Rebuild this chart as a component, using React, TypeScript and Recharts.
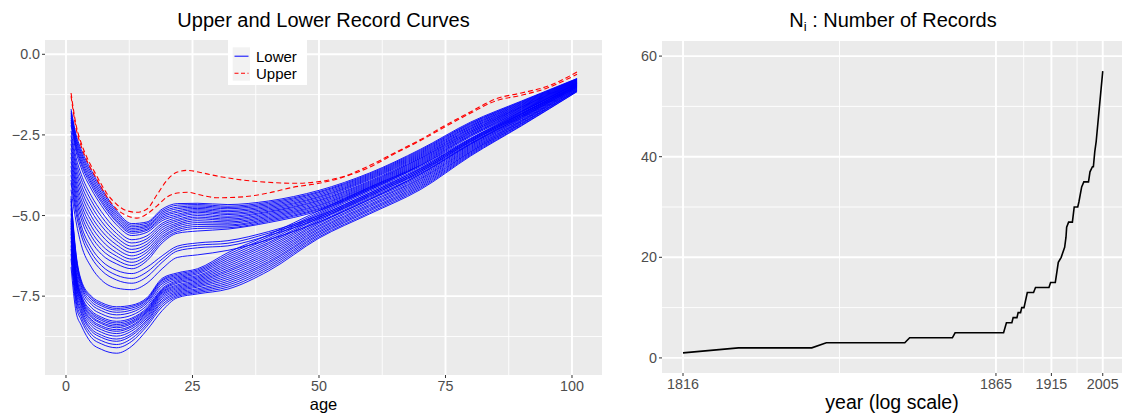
import React from 'react';
import { LineChart, Line, XAxis, YAxis, CartesianGrid } from 'recharts';

const FONT = '"Liberation Sans", Arial, Helvetica, sans-serif';

// ---------- Left panel: record curves (log mortality by age) ----------
const AGES = [1, 2, 3, 5, 7, 10, 13, 16, 19, 22, 26, 32, 40, 50, 60, 70, 80, 90, 101];

// Lower record curves, upper bundle
const LOWER_BUNDLE_A = [
  [-1.70, -2.50, -2.95, -3.60, -4.15, -4.85, -5.25, -5.20, -4.80, -4.63, -4.62, -4.66, -4.55, -4.22, -3.68, -2.95, -2.10, -1.45, -0.75],
  [-1.77, -2.57, -3.03, -3.68, -4.22, -4.91, -5.30, -5.24, -4.85, -4.68, -4.66, -4.71, -4.59, -4.26, -3.71, -2.98, -2.13, -1.47, -0.76],
  [-1.83, -2.64, -3.10, -3.76, -4.30, -4.97, -5.35, -5.29, -4.90, -4.74, -4.70, -4.75, -4.63, -4.29, -3.74, -3.01, -2.15, -1.49, -0.77],
  [-1.90, -2.71, -3.18, -3.84, -4.37, -5.03, -5.40, -5.33, -4.95, -4.79, -4.74, -4.79, -4.67, -4.33, -3.77, -3.04, -2.18, -1.51, -0.78],
  [-1.97, -2.79, -3.26, -3.92, -4.44, -5.09, -5.45, -5.37, -5.00, -4.85, -4.78, -4.84, -4.71, -4.37, -3.80, -3.07, -2.21, -1.53, -0.79],
  [-2.04, -2.86, -3.34, -3.99, -4.52, -5.15, -5.50, -5.42, -5.05, -4.90, -4.82, -4.88, -4.75, -4.41, -3.83, -3.10, -2.23, -1.55, -0.80],
  [-2.11, -2.93, -3.41, -4.07, -4.59, -5.20, -5.55, -5.46, -5.10, -4.96, -4.86, -4.93, -4.79, -4.44, -3.86, -3.13, -2.26, -1.57, -0.81],
  [-2.20, -3.03, -3.52, -4.18, -4.69, -5.29, -5.62, -5.52, -5.16, -5.01, -4.90, -4.97, -4.83, -4.48, -3.89, -3.16, -2.29, -1.59, -0.82],
  [-2.38, -3.21, -3.72, -4.39, -4.88, -5.44, -5.75, -5.63, -5.24, -5.06, -4.95, -5.02, -4.87, -4.52, -3.93, -3.19, -2.31, -1.61, -0.83],
  [-2.52, -3.36, -3.87, -4.54, -5.03, -5.56, -5.85, -5.72, -5.30, -5.12, -5.00, -5.06, -4.90, -4.55, -3.96, -3.22, -2.34, -1.63, -0.84],
  [-2.65, -3.50, -4.03, -4.70, -5.18, -5.68, -5.95, -5.80, -5.37, -5.17, -5.05, -5.11, -4.94, -4.59, -3.99, -3.24, -2.37, -1.64, -0.85],
  [-2.78, -3.64, -4.18, -4.86, -5.32, -5.79, -6.05, -5.89, -5.44, -5.23, -5.10, -5.15, -4.98, -4.63, -4.02, -3.27, -2.39, -1.66, -0.86],
  [-2.92, -3.79, -4.33, -5.02, -5.47, -5.91, -6.15, -5.97, -5.51, -5.28, -5.16, -5.20, -5.02, -4.67, -4.05, -3.30, -2.42, -1.68, -0.87],
  [-3.06, -3.93, -4.49, -5.17, -5.61, -6.03, -6.25, -6.06, -5.58, -5.33, -5.22, -5.24, -5.06, -4.70, -4.08, -3.33, -2.44, -1.70, -0.88],
  [-3.19, -4.07, -4.64, -5.33, -5.76, -6.15, -6.35, -6.14, -5.65, -5.39, -5.28, -5.29, -5.10, -4.74, -4.11, -3.36, -2.47, -1.72, -0.89],
  [-3.33, -4.21, -4.79, -5.49, -5.91, -6.26, -6.45, -6.23, -5.71, -5.44, -5.34, -5.33, -5.14, -4.78, -4.14, -3.39, -2.50, -1.74, -0.90],
  [-3.47, -4.36, -4.95, -5.64, -6.05, -6.38, -6.55, -6.32, -5.78, -5.50, -5.40, -5.38, -5.18, -4.81, -4.17, -3.42, -2.52, -1.76, -0.91],
  [-3.60, -4.50, -5.10, -5.80, -6.20, -6.50, -6.65, -6.40, -5.85, -5.55, -5.48, -5.42, -5.22, -4.85, -4.20, -3.45, -2.55, -1.78, -0.92],
  [-3.75, -4.65, -5.30, -6.00, -6.40, -6.70, -6.80, -6.60, -6.25, -5.95, -5.85, -5.78, -5.50, -5.00, -4.30, -3.55, -2.62, -1.83, -0.95],
  [-3.90, -4.80, -5.45, -6.15, -6.55, -6.85, -6.95, -6.75, -6.35, -6.02, -5.92, -5.86, -5.55, -5.05, -4.35, -3.60, -2.66, -1.86, -0.97],
  [-4.00, -4.95, -5.60, -6.30, -6.70, -7.00, -7.10, -6.90, -6.45, -6.10, -6.00, -5.94, -5.62, -5.10, -4.40, -3.65, -2.70, -1.90, -0.99],
  [-4.20, -5.20, -5.90, -6.60, -7.00, -7.25, -7.30, -7.10, -6.65, -6.30, -6.22, -6.08, -5.75, -5.20, -4.50, -3.72, -2.78, -1.95, -1.02],
];

// Lower record curves, lower bundle
const LOWER_BUNDLE_B = [
  [-4.40, -6.20, -7.00, -7.50, -7.70, -7.83, -7.78, -7.55, -6.95, -6.78, -6.65, -6.15, -5.60, -4.85, -4.12, -3.45, -2.60, -1.78, -0.90],
  [-4.48, -6.26, -7.05, -7.55, -7.75, -7.88, -7.82, -7.59, -6.99, -6.82, -6.69, -6.21, -5.66, -4.90, -4.16, -3.49, -2.63, -1.80, -0.91],
  [-4.55, -6.32, -7.10, -7.60, -7.80, -7.93, -7.87, -7.62, -7.02, -6.86, -6.73, -6.27, -5.72, -4.94, -4.21, -3.53, -2.66, -1.83, -0.93],
  [-4.66, -6.41, -7.17, -7.67, -7.87, -8.00, -7.93, -7.67, -7.07, -6.90, -6.77, -6.33, -5.78, -4.98, -4.25, -3.57, -2.69, -1.85, -0.94],
  [-4.78, -6.51, -7.24, -7.75, -7.95, -8.08, -8.00, -7.72, -7.12, -6.94, -6.81, -6.39, -5.84, -5.03, -4.30, -3.61, -2.72, -1.87, -0.96],
  [-4.94, -6.64, -7.34, -7.85, -8.05, -8.18, -8.09, -7.79, -7.19, -6.98, -6.86, -6.45, -5.89, -5.07, -4.34, -3.65, -2.75, -1.90, -0.97],
  [-5.09, -6.76, -7.44, -7.95, -8.15, -8.28, -8.18, -7.86, -7.26, -7.02, -6.90, -6.51, -5.95, -5.12, -4.38, -3.69, -2.77, -1.92, -0.98],
  [-5.16, -6.83, -7.49, -8.00, -8.20, -8.33, -8.22, -7.90, -7.30, -7.06, -6.94, -6.57, -6.01, -5.16, -4.43, -3.73, -2.80, -1.94, -1.00],
  [-5.24, -6.89, -7.54, -8.05, -8.25, -8.38, -8.27, -7.93, -7.33, -7.10, -6.98, -6.63, -6.07, -5.21, -4.47, -3.77, -2.83, -1.97, -1.01],
  [-5.32, -6.95, -7.58, -8.11, -8.31, -8.43, -8.31, -7.97, -7.37, -7.15, -7.02, -6.69, -6.13, -5.25, -4.51, -3.81, -2.86, -1.99, -1.02],
  [-5.39, -7.01, -7.63, -8.15, -8.35, -8.48, -8.35, -8.00, -7.40, -7.19, -7.06, -6.74, -6.19, -5.30, -4.56, -3.85, -2.89, -2.01, -1.04],
  [-5.49, -7.09, -7.69, -8.22, -8.42, -8.54, -8.41, -8.04, -7.44, -7.23, -7.10, -6.80, -6.25, -5.34, -4.60, -3.88, -2.92, -2.04, -1.05],
  [-5.56, -7.15, -7.74, -8.27, -8.47, -8.59, -8.45, -8.08, -7.48, -7.27, -7.14, -6.86, -6.31, -5.39, -4.65, -3.92, -2.95, -2.06, -1.06],
  [-5.67, -7.24, -7.81, -8.34, -8.54, -8.66, -8.51, -8.13, -7.53, -7.31, -7.18, -6.92, -6.37, -5.43, -4.69, -3.96, -2.98, -2.08, -1.08],
  [-5.79, -7.34, -7.89, -8.42, -8.62, -8.74, -8.58, -8.18, -7.58, -7.35, -7.22, -6.98, -6.43, -5.48, -4.73, -4.00, -3.01, -2.10, -1.09],
  [-5.93, -7.45, -7.97, -8.51, -8.71, -8.83, -8.66, -8.24, -7.64, -7.39, -7.27, -7.04, -6.48, -5.52, -4.78, -4.04, -3.03, -2.13, -1.11],
  [-6.04, -7.54, -8.04, -8.58, -8.78, -8.90, -8.72, -8.29, -7.69, -7.43, -7.31, -7.10, -6.54, -5.57, -4.82, -4.08, -3.06, -2.15, -1.12],
  [-6.19, -7.66, -8.14, -8.68, -8.88, -9.00, -8.81, -8.36, -7.76, -7.47, -7.35, -7.16, -6.60, -5.61, -4.86, -4.12, -3.09, -2.17, -1.13],
  [-6.34, -7.79, -8.24, -8.78, -8.98, -9.10, -8.90, -8.43, -7.83, -7.51, -7.39, -7.22, -6.66, -5.66, -4.91, -4.16, -3.12, -2.20, -1.15],
  [-6.60, -8.00, -8.40, -8.95, -9.15, -9.27, -9.05, -8.55, -7.95, -7.55, -7.43, -7.28, -6.72, -5.70, -4.95, -4.20, -3.15, -2.22, -1.16],
];

// Upper record curves
const UPPER_AGES = [1, 2, 3, 4, 6, 8, 10, 12, 14, 16, 18, 20, 22, 24, 27, 30, 35, 40, 45, 50, 55, 60, 65, 70, 75, 80, 85, 90, 95, 101];
const UPPER_1 = [-1.20, -2.20, -2.75, -3.15, -3.75, -4.30, -4.65, -4.85, -4.90, -4.80, -4.35, -3.90, -3.65, -3.60, -3.68, -3.78, -3.90, -3.97, -4.00, -3.95, -3.78, -3.45, -3.05, -2.65, -2.20, -1.78, -1.38, -1.20, -1.00, -0.55];
const UPPER_2 = [-1.30, -2.30, -2.85, -3.25, -3.85, -4.40, -4.80, -5.00, -5.08, -4.95, -4.70, -4.42, -4.30, -4.28, -4.38, -4.45, -4.42, -4.30, -4.12, -4.00, -3.80, -3.50, -3.08, -2.68, -2.24, -1.82, -1.44, -1.27, -1.05, -0.62];

const LEFT_X_TICKS = [0, 25, 50, 75, 100];
const LEFT_X_MINOR = [12.5, 37.5, 62.5, 87.5];
const LEFT_Y_TICKS = [-7.5, -5, -2.5, 0];
const LEFT_Y_MINOR = [-8.75, -6.25, -3.75, -1.25];

// ---------- Right panel: number of records ----------
const YEARS = [1816, 1817, 1820, 1821, 1831, 1832, 1844, 1845, 1870, 1872, 1876, 1877, 1880, 1881, 1883, 1884, 1886, 1889, 1895, 1897, 1912, 1914, 1920, 1922, 1924, 1928, 1933, 1935, 1936, 1939, 1945, 1948, 1954, 1956, 1961, 1965, 1974, 1977, 1982, 1984, 1987, 1990, 2005];
const RECORDS = [1, 2, 2, 3, 3, 4, 4, 5, 5, 7, 7, 8, 8, 9, 9, 10, 10, 13, 13, 14, 14, 15, 15, 17, 19, 20, 22, 24, 26, 27, 27, 30, 30, 31, 34, 35, 35, 37, 38, 38, 41, 43, 57];
const BASE_YEAR = 1815;
const YEAR_TICKS = [1816, 1865, 1915, 2005];
const RIGHT_Y_TICKS = [0, 20, 40, 60];
const RIGHT_Y_MINOR = [10, 30, 50];

const curveData = (row: number[]) => AGES.map((a, i) => ({ age: a, v: row[i] }));
const upperData = (row: number[]) => UPPER_AGES.map((a, i) => ({ age: a, v: row[i] }));
const recordData = YEARS.map((y, i) => ({ idx: y - BASE_YEAR, n: RECORDS[i] }));
const yearIdx = YEAR_TICKS.map((y) => y - BASE_YEAR);
// minor breaks: midpoints (in log space) between major breaks
const yearMinor = [
  Math.sqrt(yearIdx[0] * yearIdx[1]),
  Math.sqrt(yearIdx[1] * yearIdx[2]),
  Math.sqrt(yearIdx[2] * yearIdx[3]),
];

const tickStyle = { fontSize: 14.3, fill: '#4D4D4D', fontFamily: FONT };
const minus = (v: number) => v.toFixed(1).replace('-', '\u2212');

function LeftChart() {
  return (
    <LineChart width={610} height={417} margin={{ top: 40, right: 8, bottom: 0, left: 0 }}>
      <CartesianGrid fill="#EBEBEB" stroke="#FFFFFF" strokeWidth={0.9} horizontalValues={LEFT_Y_MINOR} verticalValues={LEFT_X_MINOR} />
      <CartesianGrid fill="none" stroke="#FFFFFF" strokeWidth={1.9} horizontalValues={LEFT_Y_TICKS} verticalValues={LEFT_X_TICKS} />
      <XAxis type="number" dataKey="age" domain={[-4.15, 105.93]} allowDataOverflow ticks={LEFT_X_TICKS} interval={0}
        height={42} axisLine={false} tickLine={{ stroke: '#333333' }} tickSize={3} tickMargin={3} tick={tickStyle} />
      <YAxis type="number" dataKey="v" domain={[-9.945, 0.443]} allowDataOverflow ticks={LEFT_Y_TICKS} interval={0}
        width={45} axisLine={false} tickLine={{ stroke: '#333333' }} tickSize={3} tickMargin={2} tick={tickStyle} tickFormatter={minus} />
      {LOWER_BUNDLE_A.map((row, i) => (
        <Line key={'a' + i} data={curveData(row)} dataKey="v" type="monotone" stroke="#0000FF" strokeWidth={0.9}
          dot={false} activeDot={false} isAnimationActive={false} />
      ))}
      {LOWER_BUNDLE_B.map((row, i) => (
        <Line key={'b' + i} data={curveData(row)} dataKey="v" type="monotone" stroke="#0000FF" strokeWidth={0.9}
          dot={false} activeDot={false} isAnimationActive={false} />
      ))}
      <Line data={upperData(UPPER_1)} dataKey="v" type="monotone" stroke="#FF0000" strokeWidth={1.1} strokeDasharray="5 3"
        dot={false} activeDot={false} isAnimationActive={false} />
      <Line data={upperData(UPPER_2)} dataKey="v" type="monotone" stroke="#FF0000" strokeWidth={1.1} strokeDasharray="5 3"
        dot={false} activeDot={false} isAnimationActive={false} />
    </LineChart>
  );
}

function RightChart() {
  return (
    <LineChart width={512} height={417} data={recordData} margin={{ top: 41, right: 0, bottom: 0, left: 0 }}>
      <CartesianGrid fill="#EBEBEB" stroke="#FFFFFF" strokeWidth={0.9} horizontalValues={RIGHT_Y_MINOR} verticalValues={yearMinor} />
      <CartesianGrid fill="none" stroke="#FFFFFF" strokeWidth={1.9} horizontalValues={RIGHT_Y_TICKS} verticalValues={yearIdx} />
      <XAxis type="number" dataKey="idx" scale="log" domain={[0.769, 241.7]} allowDataOverflow ticks={yearIdx} interval={0}
        height={44} axisLine={false} tickLine={{ stroke: '#333333' }} tickSize={3} tickMargin={3} tick={tickStyle}
        tickFormatter={(v: number) => String(Math.round(v) + BASE_YEAR)} />
      <YAxis type="number" domain={[-3, 63]} allowDataOverflow ticks={RIGHT_Y_TICKS} interval={0}
        width={52} axisLine={false} tickLine={{ stroke: '#333333' }} tickSize={3} tickMargin={2} tick={tickStyle} />
      <Line dataKey="n" type="linear" stroke="#000000" strokeWidth={1.6} dot={false} activeDot={false} isAnimationActive={false} />
    </LineChart>
  );
}

export default function App() {
  return (
    <div style={{ position: 'absolute', left: 0, top: 0, width: 1122, height: 417, background: '#FFFFFF', overflow: 'hidden', fontFamily: FONT }}>
      <div style={{ position: 'absolute', left: 0, top: 0 }}><LeftChart /></div>
      <div style={{ position: 'absolute', left: 610, top: 0 }}><RightChart /></div>
      <svg width={1122} height={417} style={{ position: 'absolute', left: 0, top: 0, pointerEvents: 'none' }} fontFamily={FONT}>
        <text x={323.5} y={27} textAnchor="middle" fontSize={20} fill="#000">Upper and Lower Record Curves</text>
        <text x={893} y={27} textAnchor="middle" fontSize={20} fill="#000">
          <tspan>N</tspan><tspan fontSize={13} dy={4}>i</tspan><tspan dy={-4}> : Number of Records</tspan>
        </text>
        <text x={323.5} y={410} textAnchor="middle" fontSize={16.5} fill="#000">age</text>
        <text x={892} y={409} textAnchor="middle" fontSize={19.5} fill="#000">year (log scale)</text>
        <rect x={228} y={39} width={79} height={46} fill="#FFFFFF" />
        <rect x={232.7} y={47.3} width={17.3} height={16.7} fill="#F2F2F2" />
        <rect x={232.7} y={64} width={17.3} height={16.7} fill="#F2F2F2" />
        <line x1={234.5} y1={56.2} x2={248.5} y2={56.2} stroke="#0000FF" strokeWidth={1} />
        <line x1={234.5} y1={73.3} x2={248.5} y2={73.3} stroke="#FF0000" strokeWidth={1.1} strokeDasharray="4 2.5" />
        <text x={256} y={61.5} fontSize={15} fill="#000">Lower</text>
        <text x={256} y={78.5} fontSize={15} fill="#000">Upper</text>
      </svg>
    </div>
  );
}
